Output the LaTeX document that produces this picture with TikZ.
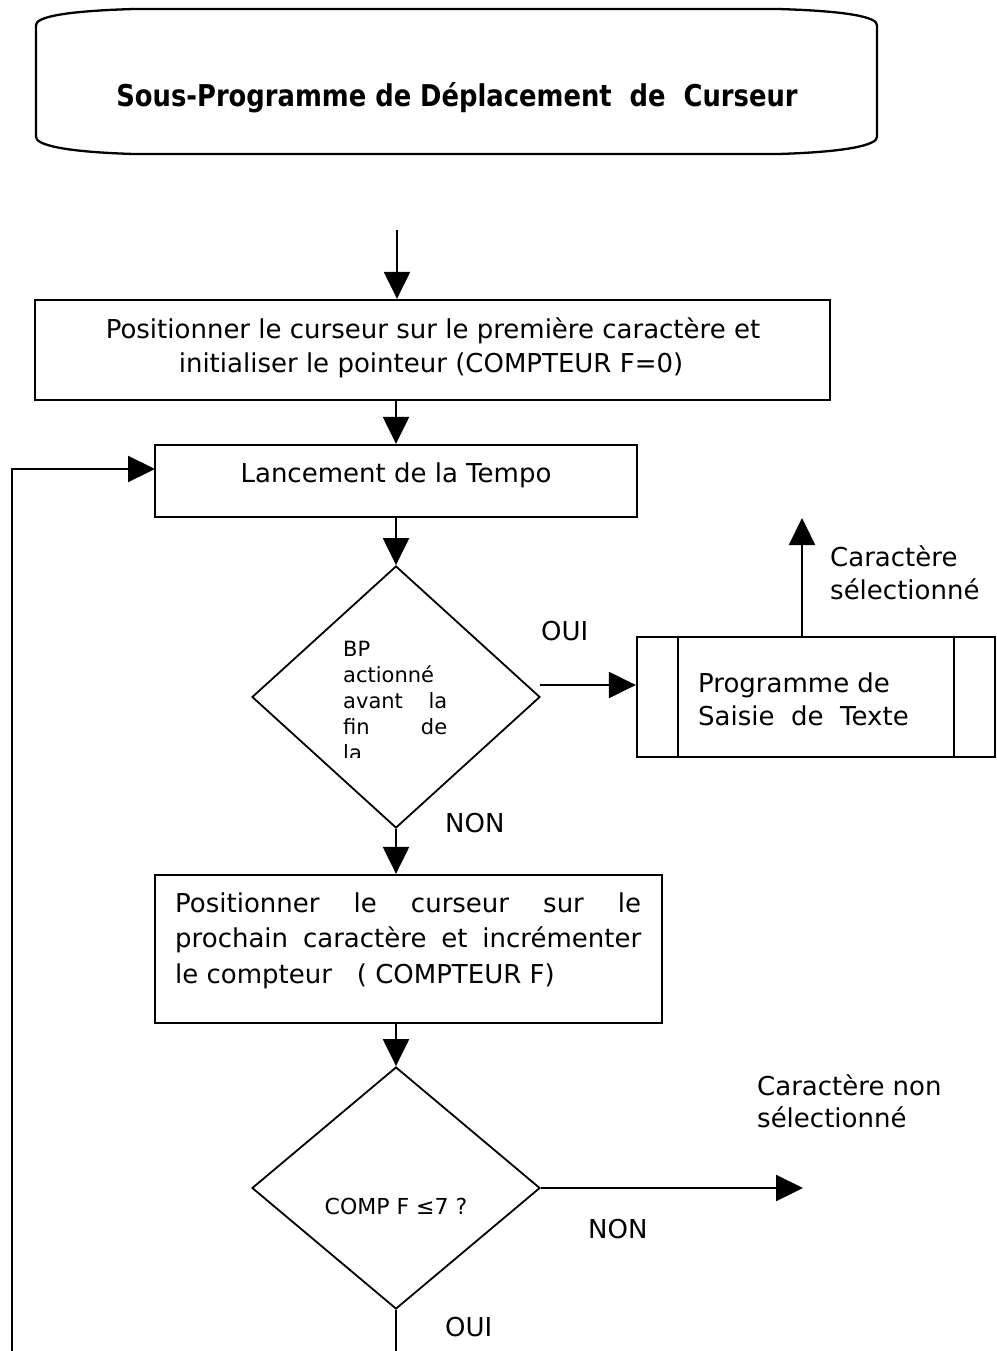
\documentclass[tikz,border=0pt]{standalone}
\usepackage{fontspec}
\setmainfont{DejaVu Sans}
\newfontfamily\titlefont[FakeStretch=0.86]{DejaVu Sans}
\usetikzlibrary{arrows.meta,shapes.geometric}
\begin{document}
\begin{tikzpicture}[x=1pt,y=-1pt,
  line/.style={line width=2.3pt},
  arr/.style={line width=2.3pt,-{Triangle[length=27pt,width=26pt]}},
  box/.style={draw,line width=2.3pt,inner sep=0pt},
  dia/.style={draw,diamond,line width=1.8pt,inner sep=0pt},
  txt/.style={inner sep=0pt,font=\fontsize{26}{31}\selectfont},
  lbl/.style={inner sep=0pt,font=\fontsize{26}{31}\selectfont},
  small/.style={inner sep=0pt,font=\fontsize{21}{25}\selectfont}]
\useasboundingbox (0,0) rectangle (996,1351);

% terminator
\draw[line width=2.3pt] (36,25) .. controls (36,17) and (65,11) .. (134,9) -- (778,9)
  .. controls (847,11) and (877,17) .. (877,25) -- (877,137)
  .. controls (877,145) and (847,152) .. (778,154) -- (134,154)
  .. controls (65,152) and (36,145) .. (36,137) -- cycle;
\node[inner sep=0pt,anchor=base,font=\titlefont\bfseries\fontsize{30}{36}\selectfont] (title) at (457,107)
  {Sous-Programme de Déplacement\ \ de\ \ Curseur};

% boxes
\node[box,minimum width=795pt,minimum height=100pt] (b1) at (432.5,350) {};
\node[txt,anchor=base] (b1t1) at (433,338) {Positionner le curseur sur le première caractère et};
\node[txt,anchor=base] (b1t2) at (431,372) {initialiser le pointeur (COMPTEUR F=0)};

\node[box,minimum width=482pt,minimum height=72pt] (b2) at (396,481) {};
\node[txt,anchor=base] (b2t) at (396,482) {Lancement de la Tempo};

\node[dia,minimum width=288pt,minimum height=262pt] (d1) at (396,697) {};
\begin{scope}
  \clip (300,560) rectangle (500,757);
  \node[small,anchor=base west] (d1a) at (343,656) {BP};
  \node[small,anchor=base west] (d1b) at (343,682) {actionné};
  \node[small,anchor=base west] (d1c) at (343,708) {\makebox[104pt][s]{avant la}};
  \node[small,anchor=base west] (d1d) at (343,734) {\makebox[104pt][s]{fin de}};
  \node[small,anchor=base west] (d1e) at (343,760) {la};
\end{scope}

\node[box,minimum width=358pt,minimum height=120pt] (b3) at (816,697) {};
\draw[line] (678,637) -- (678,757);
\draw[line] (954,637) -- (954,757);
\node[txt,anchor=base west] (b3t1) at (698,692) {Programme de};
\node[txt,anchor=base west] (b3t2) at (698,725) {Saisie\ \ de\ \ Texte};

\node[box,minimum width=507pt,minimum height=148pt] (b4) at (408.5,949) {};
\node[txt,anchor=base west] (b4t1) at (175,912) {\makebox[466pt][s]{Positionner le curseur sur le}};
\node[txt,anchor=base west] (b4t2) at (175,947) {\makebox[466pt][s]{prochain caractère et incrémenter}};
\node[txt,anchor=base west] (b4t3) at (175,983) {le compteur\ \ \ ( COMPTEUR F)};

\node[dia,minimum width=288pt,minimum height=242pt] (d2) at (396,1188) {};
\node[small,anchor=base,font=\fontsize{22}{26}\selectfont] (d2t) at (396,1214) {COMP F ≤7 ?};

% labels
\node[lbl,anchor=base west] (oui1) at (541,640) {OUI};
\node[lbl,anchor=base west] (non1) at (445,832) {NON};
\node[txt,anchor=base west] (sel1) at (830,566) {Caractère};
\node[txt,anchor=base west] (sel2) at (830,599) {sélectionné};
\node[txt,anchor=base west] (ns1) at (757,1095) {Caractère non};
\node[txt,anchor=base west] (ns2) at (757,1127) {sélectionné};
\node[lbl,anchor=base west] (non2) at (588,1238) {NON};
\node[lbl,anchor=base west] (oui2) at (445,1336) {OUI};

% coordinates
\coordinate (start) at (397,230);
\coordinate (d1r) at (540,685);
\coordinate (up) at (802,518);
\coordinate (out2) at (803,1188);
\coordinate (loopbot) at (12,1360);
\coordinate (loopin) at (155,469);

% connectors
\draw[arr] (start) -- (start |- b1.north);
\draw[arr] (b2.north |- b1.south) -- (b2.north);
\draw[arr] (b2.south) -- (d1.north);
\draw[arr] (d1r) -- (d1r -| b3.west);
\draw[arr] (up |- b3.north) -- (up);
\draw[arr] (d1.south) -- (d1.south |- b4.north);
\draw[arr] (d2.north |- b4.south) -- (d2.north);
\draw[arr] (d2.east) -- (out2);
\draw[line] (d2.south) -- (d2.south |- loopbot);
\draw[arr] (loopbot) |- (loopin);
\end{tikzpicture}
\end{document}
